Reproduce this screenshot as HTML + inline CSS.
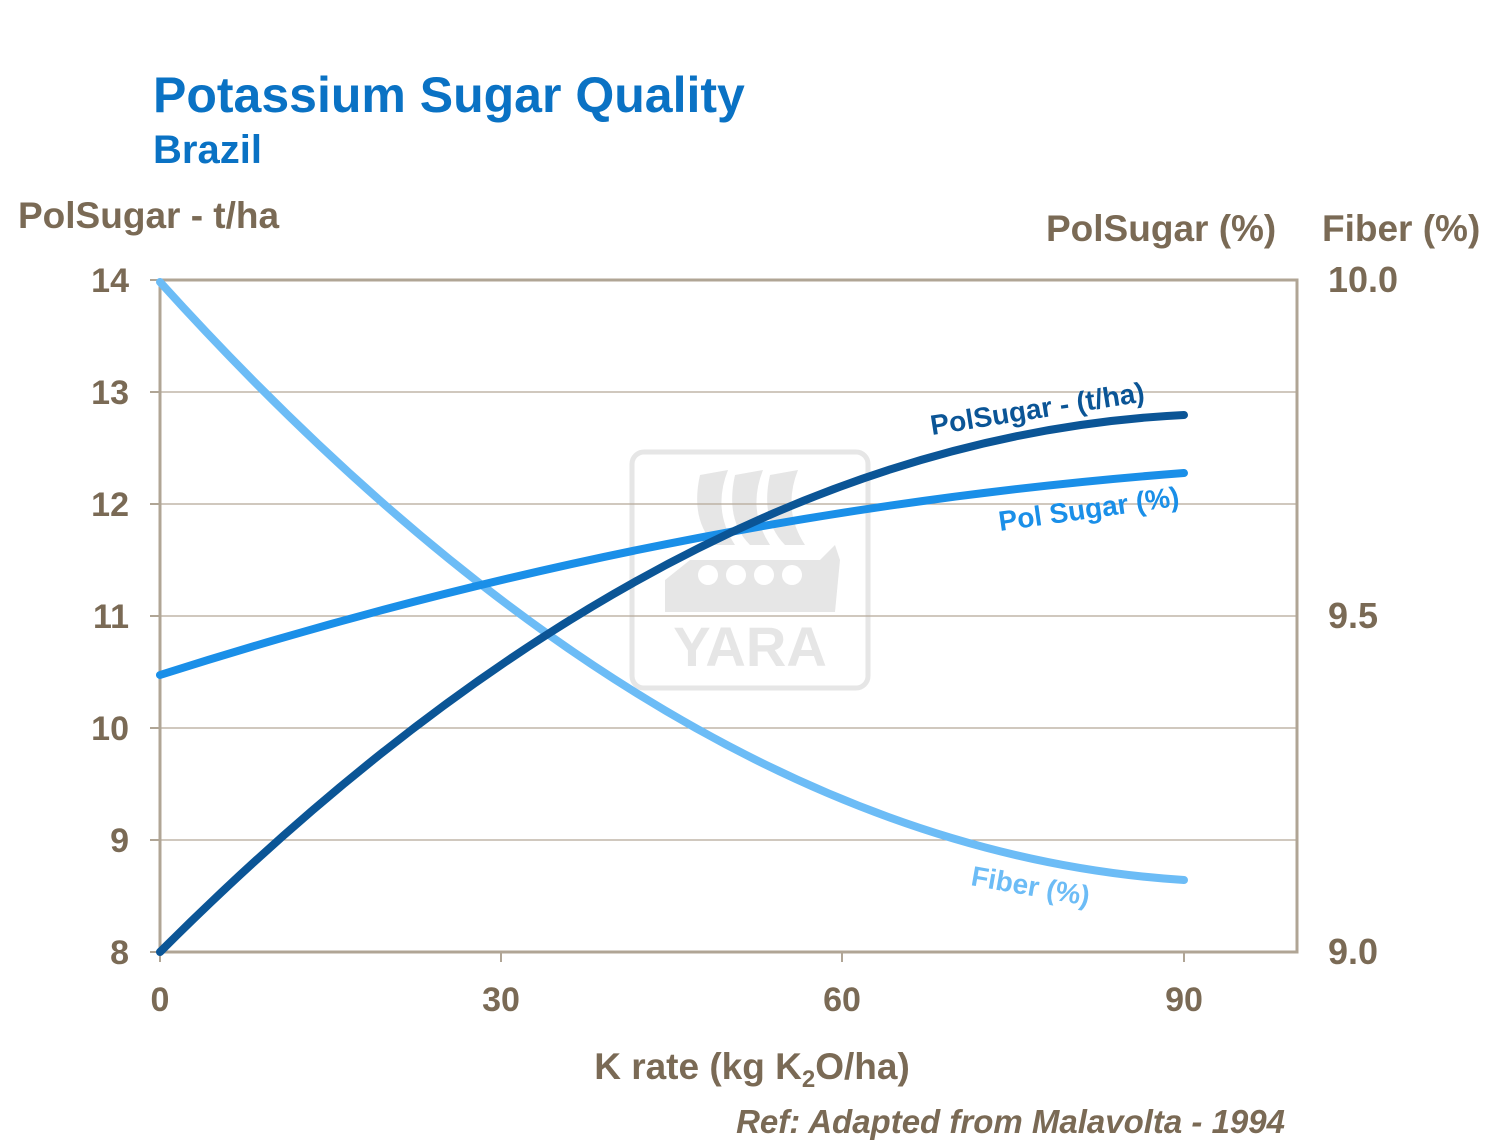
<!DOCTYPE html>
<html><head><meta charset="utf-8"><style>
body{margin:0;background:#fff;}
svg{display:block;font-family:"Liberation Sans",Arial,sans-serif;font-weight:bold;}
</style></head><body>
<svg width="1501" height="1142" viewBox="0 0 1501 1142">
<text x="153" y="112" font-size="50" fill="#0a72c4">Potassium Sugar Quality</text>
<text x="153" y="163" font-size="40" fill="#0a72c4">Brazil</text>
<g fill="#7a6a55" font-size="37">
<text x="18" y="228">PolSugar - t/ha</text>
<text x="1046" y="241">PolSugar (%)</text>
<text x="1322" y="241">Fiber (%)</text>
</g>
<g fill="#e6e6e6">
<rect x="632" y="452" width="236" height="236" rx="12" fill="none" stroke="#e6e6e6" stroke-width="5"/>
<path d="M700,475 Q690,520 715,545 L735,545 Q712,510 728,470 Z"/>
<path d="M735,475 Q725,520 750,545 L770,545 Q747,510 763,470 Z"/>
<path d="M770,475 Q760,520 785,545 L805,545 Q782,510 798,470 Z"/>
<path d="M665,580 L690,560 L820,560 L835,545 L840,560 L835,612 L665,612 Z"/>
<text x="750" y="666" font-size="56" text-anchor="middle">YARA</text>
</g>
<g fill="#fff"><circle cx="708" cy="575" r="10"/><circle cx="736" cy="575" r="10"/><circle cx="764" cy="575" r="10"/><circle cx="792" cy="575" r="10"/></g>
<g stroke="#b5a898" stroke-width="1.2">
<line x1="160" y1="392" x2="1297" y2="392"/><line x1="160" y1="504" x2="1297" y2="504"/>
<line x1="160" y1="616" x2="1297" y2="616"/><line x1="160" y1="728" x2="1297" y2="728"/>
<line x1="160" y1="840" x2="1297" y2="840"/>
</g>
<rect x="160" y="280" width="1137" height="672" fill="none" stroke="#b0a595" stroke-width="3"/>
<g stroke="#b0a595" stroke-width="2">
<line x1="150" y1="280" x2="160" y2="280"/><line x1="150" y1="392" x2="160" y2="392"/><line x1="150" y1="504" x2="160" y2="504"/><line x1="150" y1="616" x2="160" y2="616"/><line x1="150" y1="728" x2="160" y2="728"/><line x1="150" y1="840" x2="160" y2="840"/><line x1="150" y1="952" x2="160" y2="952"/>
<line x1="160" y1="952" x2="160" y2="962"/><line x1="501" y1="952" x2="501" y2="962"/><line x1="842" y1="952" x2="842" y2="962"/><line x1="1184" y1="952" x2="1184" y2="962"/>
</g>
<g fill="#7a6a55" font-size="34" text-anchor="end">
<text x="129" y="292">14</text><text x="129" y="404">13</text><text x="129" y="516">12</text><text x="129" y="628">11</text><text x="129" y="740">10</text><text x="129" y="852">9</text><text x="129" y="964">8</text>
</g>
<g fill="#7a6a55" font-size="36">
<text x="1328" y="292">10.0</text><text x="1328" y="628">9.5</text><text x="1328" y="964">9.0</text>
</g>
<g fill="#7a6a55" font-size="34" text-anchor="middle">
<text x="160" y="1011">0</text><text x="501" y="1011">30</text><text x="842" y="1011">60</text><text x="1184" y="1011">90</text>
<text x="752" y="1079" font-size="37">K rate (kg K<tspan font-size="24" dy="8">2</tspan><tspan dy="-8">O/ha)</tspan></text>
</g>
<text x="1285" y="1133" fill="#7a6a55" font-size="33" font-style="italic" text-anchor="end">Ref: Adapted from Malavolta - 1994</text>
<g fill="none" stroke-width="8" stroke-linecap="round">
<path d="M160,282 Q672,848 1184,880" stroke="#6cbcf6"/>
<path d="M160,675 Q672,512 1184,473" stroke="#1a8fe8"/>
<path d="M160,952 Q672,440 1184,415" stroke="#0b5596"/>
</g>
<g font-size="28" style="white-space:pre">
<text x="932" y="435" fill="#0b5596" transform="rotate(-9 932 435)">PolSugar  - (t/ha)</text>
<text x="1000" y="531" fill="#1a8fe8" transform="rotate(-8 1000 531)">Pol Sugar  (%)</text>
<text x="970" y="885" fill="#6cbcf6" transform="rotate(10 970 885)">Fiber (%)</text>
</g>
</svg>
</body></html>
